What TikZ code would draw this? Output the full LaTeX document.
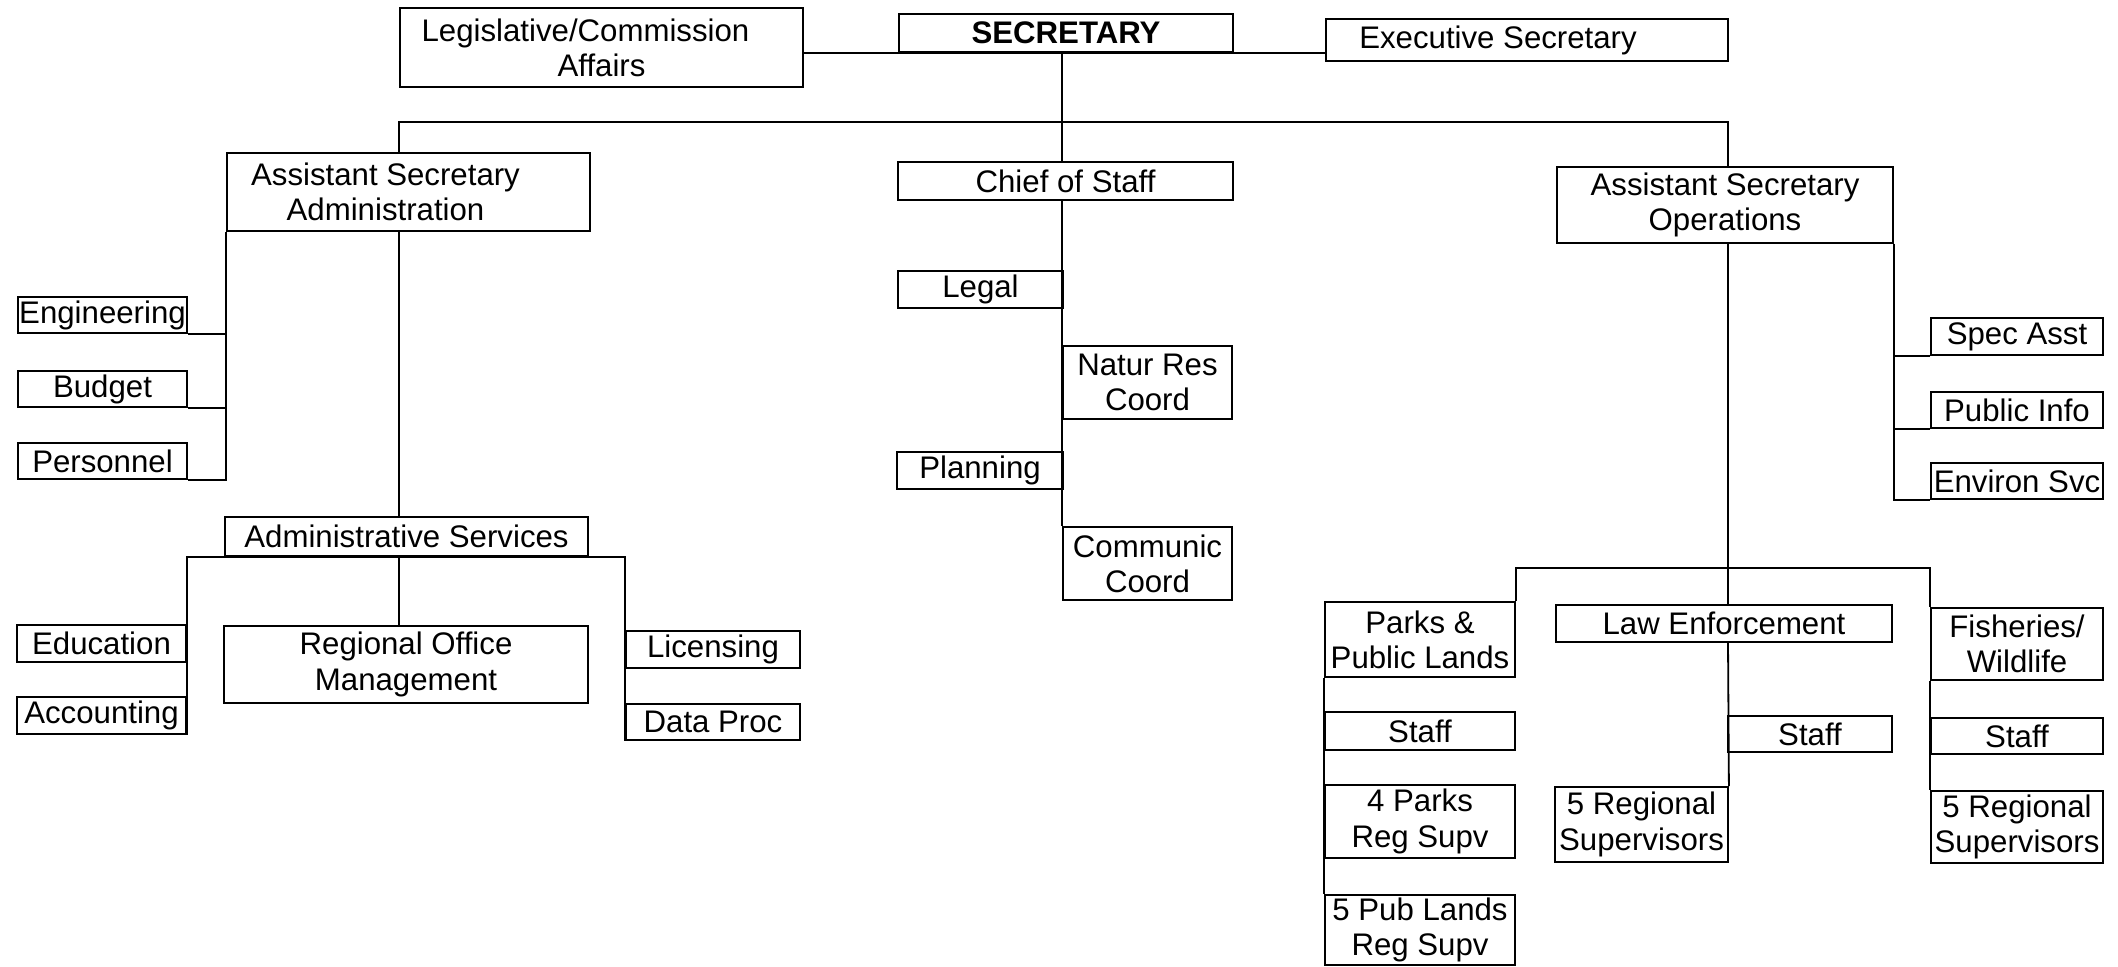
\documentclass[tikz,border=0pt]{standalone}
\usepackage{fontspec}
\setmainfont{Liberation Sans}
\begin{document}
\begin{tikzpicture}[x=0.5pt,y=-0.5pt,
  box/.style={draw, line width=0.9pt, rectangle, inner sep=0pt, align=center,
    font=\fontsize{15.6}{17.6}\selectfont},
  conn/.style={line width=0.9pt}]
\newcommand\bx[6]{\node[box,minimum width={(#4-#2)*0.5pt},minimum height={(#5-#3)*0.5pt}] (#1) at ({(#2+#4)/2},{(#3+#5)/2}) {#6};}
\fill[white] (0,0) rectangle (2118,967);
\useasboundingbox (0,0) rectangle (2118,967);
% top row
\bx{legis}{400}{8}{803}{87}{Legislative/Commission\hspace*{16pt}\\Affairs}
\bx{secr}{899}{14}{1233}{52}{\textbf{SECRETARY}}
\bx{exec}{1326}{19}{1728}{61}{Executive Secretary\hspace*{29pt}}
% second row
\bx{admin}{227}{153}{590}{231}{Assistant Secretary\hspace*{23pt}\\Administration\hspace*{23pt}}
\bx{chief}{898}{162}{1233}{200}{Chief of Staff}
\bx{ops}{1557}{167}{1893}{243}{Assistant Secretary\\Operations}
% admin staff
\bx{eng}{18}{297}{187}{333}{Engineering}
\bx{bud}{18}{371}{187}{407}{Budget}
\bx{pers}{18}{443}{187}{479}{Personnel}
\bx{adsvc}{225}{517}{588}{556}{Administrative Services}
\bx{edu}{17}{625}{186}{662}{Education}
\bx{acc}{17}{697}{186}{734}{Accounting}
\bx{rom}{224}{626}{588}{703}{Regional Office\\Management}
\bx{lic}{626}{631}{800}{668}{Licensing}
\bx{dp}{626}{704}{800}{740}{Data Proc}
% chief of staff group
\bx{legal}{898}{271}{1063}{308}{Legal}
\bx{natur}{1063}{346}{1232}{419}{Natur Res\\Coord}
\bx{plan}{897}{452}{1063}{489}{Planning}
\bx{comm}{1063}{527}{1232}{600}{Communic\\Coord}
% operations group
\bx{spec}{1931}{318}{2103}{355}{Spec Asst}
\bx{pub}{1931}{392}{2103}{428}{Public Info}
\bx{env}{1931}{463}{2103}{499}{Environ Svc}
\bx{parks}{1325}{602}{1515}{677}{Parks \&\\Public Lands}
\bx{law}{1556}{605}{1892}{642}{Law Enforcement}
\bx{fish}{1931}{608}{2103}{680}{Fisheries/\\Wildlife}
\bx{pstaff}{1325}{712}{1515}{750}{Staff}
\bx{preg}{1325}{785}{1515}{858}{4 Parks\\Reg Supv}
\bx{plands}{1325}{895}{1515}{965}{5 Pub Lands\\Reg Supv}
\bx{lstaff}{1728}{716}{1892}{752}{Staff}
\bx{lreg}{1555}{787}{1728}{862}{5 Regional\\Supervisors}
\bx{fstaff}{1931}{718}{2103}{754}{Staff}
\bx{freg}{1931}{791}{2103}{863}{5 Regional\\Supervisors}
% connectors
\coordinate (adx) at (399,122);
\coordinate (opx) at (1728,122);
\coordinate (ob) at (1728,568);
\draw[conn] (legis.east |- secr.south) -- (exec.west |- secr.south);
\draw[conn] (secr.south -| comm.west) -- (chief.north -| comm.west);
\draw[conn] (adx |- admin.north) -- (adx) -- (opx) -- (opx |- ops.north);
% admin
\draw[conn] (admin.south west) -- (admin.south west |- pers.south) -- (pers.south east);
\draw[conn] (eng.south east) -- (admin.south west |- eng.south);
\draw[conn] (bud.south east) -- (admin.south west |- bud.south);
\draw[conn] (adx |- admin.south) -- (adx |- adsvc.north);
\draw[conn] (acc.south east) -- (acc.east |- adsvc.south) -- (dp.west |- adsvc.south) -- (dp.south west);
\draw[conn] (adx |- adsvc.south) -- (adx |- rom.north);
% chief
\draw[conn] (chief.south -| comm.west) -- (comm.north west);
% ops
\draw[conn] (ops.south east) -- (ops.south east |- env.south) -- (env.south west);
\draw[conn] (spec.south west) -- (ops.east |- spec.south);
\draw[conn] (pub.south west) -- (ops.east |- pub.south);
\draw[conn] (opx |- ops.south) -- (opx |- law.north);
\draw[conn] (parks.north east) -- (parks.north east |- ob) -- (fish.north west |- ob) -- (fish.north west);
\draw[conn] (parks.south west) -- (plands.north west);
\draw[conn] (opx |- law.south) -- (lreg.north east);
\draw[conn] (fish.south west) -- (freg.north west);
\end{tikzpicture}
\end{document}
